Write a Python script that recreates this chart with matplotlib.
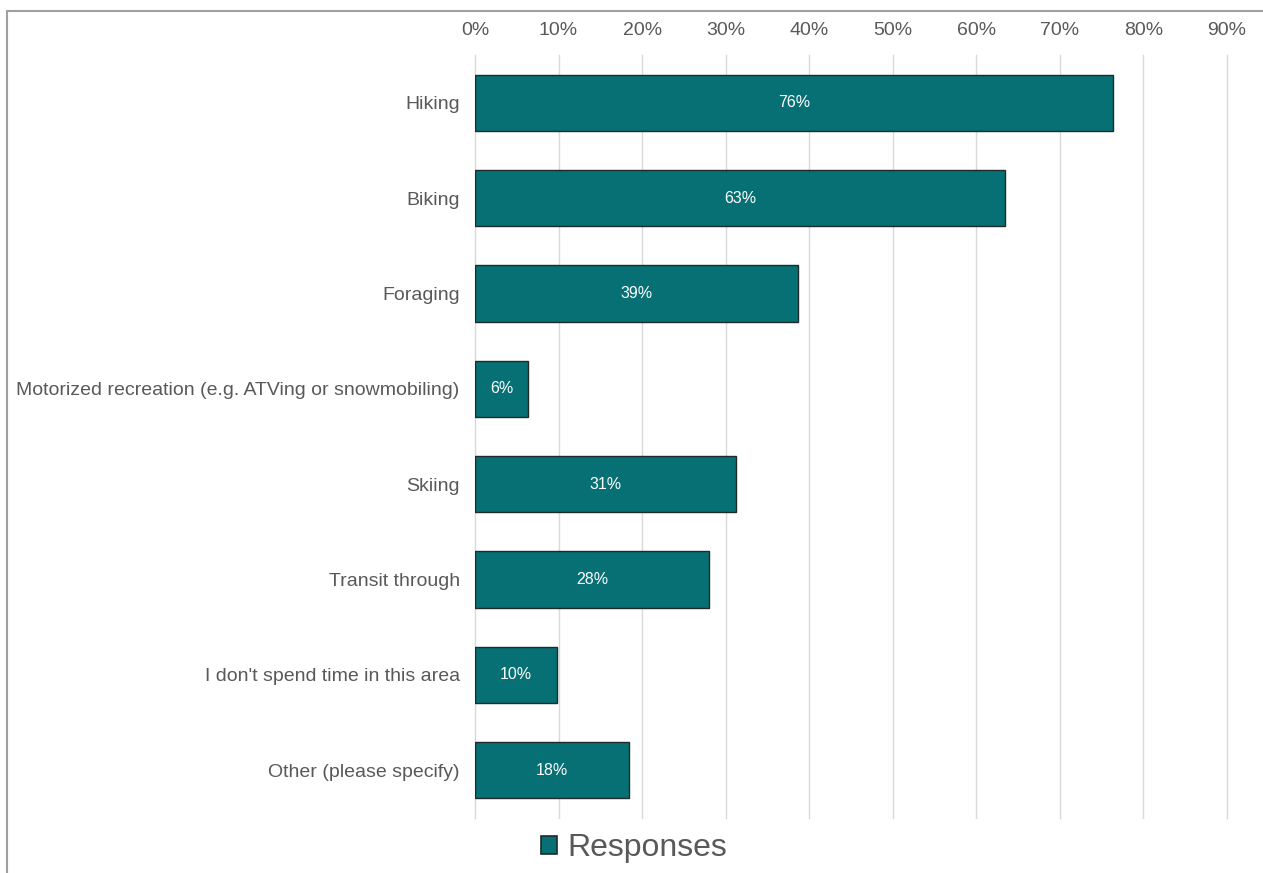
import numpy as np
import matplotlib.pyplot as plt
from matplotlib.patches import Patch, Rectangle
from matplotlib.ticker import FuncFormatter

plt.rcParams["font.family"] = ["Liberation Sans", "DejaVu Sans"]

categories = [
    "Hiking",
    "Biking",
    "Foraging",
    "Motorized recreation (e.g. ATVing or snowmobiling)",
    "Skiing",
    "Transit through",
    "I don't spend time in this area",
    "Other (please specify)",
]
shares = [76.4, 63.4, 38.7, 6.4, 31.2, 28.0, 9.8, 18.4]
x_ticks = [0, 10, 20, 30, 40, 50, 60, 70, 80, 90]

BAR = "#077075"
TXT = "#595959"

fig = plt.figure(figsize=(12.63, 8.73), dpi=100)
ax = fig.add_axes([475 / 1263, 1 - 818 / 873, 752 / 1263, 763 / 873])

y = np.arange(len(categories))
bars = ax.barh(y, shares, height=0.59, color=BAR, edgecolor="#1f2a2a", linewidth=1.0,
               zorder=3)
for b, v in zip(bars, shares):
    ax.text(b.get_width() / 2, b.get_y() + b.get_height() / 2, f"{round(v)}%",
            ha="center", va="center", color="white", fontsize=11.5, zorder=4)

ax.set_ylim(len(categories) - 0.5, -0.5)
ax.set_xlim(0, 90)
ax.set_yticks(y)
ax.set_yticklabels(categories, fontsize=14, color=TXT)
ax.set_xticks(x_ticks)
ax.xaxis.set_major_formatter(FuncFormatter(lambda v, _: f"{v:.0f}%"))
ax.xaxis.tick_top()
ax.tick_params(axis="x", length=0, pad=11.5, labelsize=14, labelcolor=TXT)
ax.tick_params(axis="y", length=0, pad=11)
ax.grid(axis="x", color="#d9d9d9", linewidth=1.0, zorder=0)
for gl in ax.get_xgridlines():
    gl.set_clip_on(False)
ax.set_axisbelow(True)
for s in ax.spines.values():
    s.set_visible(False)

fig.legend(handles=[Patch(facecolor=BAR, edgecolor="#1f2a2a", linewidth=1.2,
                          label="Responses")],
           loc="center", bbox_to_anchor=(634 / 1263, 1 - 848 / 873), frameon=False,
           fontsize=23, labelcolor=TXT, handlelength=0.5, handleheight=0.5,
           handletextpad=0.3)

# outer chart border (only top and left edges fall inside the canvas)
fig.patches.append(Rectangle((7 / 1263, -0.05), 1.1, 1 - 11 / 873 + 0.05,
                             transform=fig.transFigure, fill=False,
                             edgecolor="#a0a0a0", linewidth=1.5))

fig.savefig("out.png", dpi=100)
